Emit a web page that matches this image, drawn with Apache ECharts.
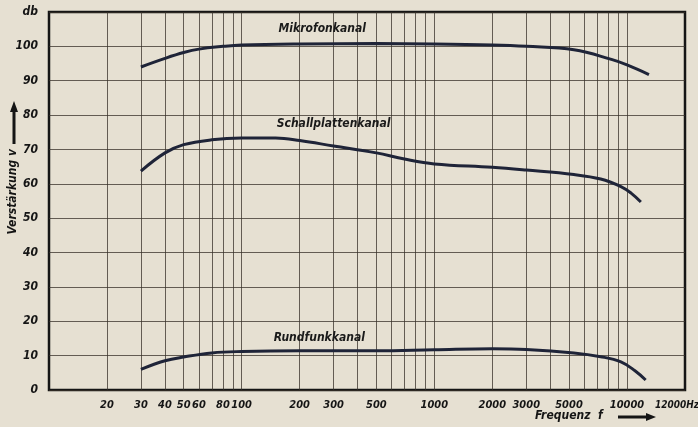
<!DOCTYPE html>
<html>
<head>
<meta charset="utf-8">
<script src="https://cdn.jsdelivr.net/npm/echarts@6/dist/echarts.min.js"></script>
<style>
  html, body { margin: 0; padding: 0; background: #e6e0d2; }
  #chart { width: 698px; height: 427px; }
</style>
</head>
<body>
<div id="chart"></div>
<script>
  'use strict'

  /* ---- data ---- */
  var gridFreqs = [20, 30, 40, 50, 60, 70, 80, 90, 100, 200, 300, 400, 500, 600, 700, 800, 900,
                   1000, 2000, 3000, 4000, 5000, 6000, 7000, 8000, 9000, 10000];
  var freqLabels = [20, 30, 40, 50, 60, 80, 100, 200, 300, 500, 1000, 2000, 3000, 5000, 10000];
  var endLabel = '12000Hz';

  var mikrofon = [[30, 94], [40, 96.5], [50, 98.2], [60, 99.2], [80, 100], [100, 100.4], [200, 100.7],
                  [500, 100.8], [1000, 100.7], [2000, 100.4], [3000, 100], [5300, 99], [8300, 96.2],
                  [10000, 94.6], [13000, 91.8]];
  var schallplatte = [[30, 63.7], [40, 69], [50, 71.4], [70, 72.8], [100, 73.3], [150, 73.3], [200, 72.6],
                      [300, 71], [500, 69], [700, 67.2], [1000, 65.8], [2000, 64.8], [3000, 64],
                      [5300, 62.7], [7300, 61.4], [9300, 59.2], [10500, 57.3], [11800, 54.7]];
  var rundfunk = [[30, 6], [40, 8.5], [50, 9.6], [70, 10.8], [100, 11.2], [200, 11.4], [500, 11.4],
                  [1000, 11.7], [2000, 12], [3000, 11.8], [5300, 10.8], [7300, 9.7], [9300, 8.2],
                  [11000, 5.6], [12500, 2.9]];

  var font = 'DejaVu Sans Condensed';
  var ink = '#1f2438';
  var gridInk = 'rgba(55,48,40,0.75)';

  function curve(name, data, labelAt) {
    return {
      name: name,
      type: 'line',
      data: data,
      smooth: 0.4,
      symbol: 'none',
      lineStyle: { color: ink, width: 3 },
      markPoint: {
        symbol: 'circle',
        symbolSize: 0,
        silent: true,
        label: {
          show: true,
          formatter: name,
          color: '#1a1a1a',
          fontFamily: font,
          fontStyle: 'italic',
          fontWeight: 'bold',
          fontSize: 12
        },
        data: [{ coord: labelAt }]
      }
    };
  }

  var chart = echarts.init(document.getElementById('chart'));
  chart.setOption({
    backgroundColor: '#e6e0d2',
    animation: false,
    grid: {
      left: 49, right: 13, top: 12, bottom: 37,
      show: true,
      borderColor: '#151515',
      borderWidth: 2.5
    },
    xAxis: {
      type: 'log',
      logBase: 10,
      min: 10,
      max: 20000,
      axisLine: { show: false },
      axisTick: { show: false, customValues: gridFreqs },
      splitLine: { show: true, lineStyle: { color: gridInk, width: 1 } },
      minorSplitLine: { show: false },
      axisLabel: {
        customValues: freqLabels,
        hideOverlap: false,
        margin: 10,
        color: '#151515',
        fontFamily: font,
        fontStyle: 'italic',
        fontWeight: 'bold',
        fontSize: 11,
        formatter: function (v) { return String(Math.round(v)); }
      }
    },
    yAxis: {
      type: 'value',
      min: 0,
      max: 110,
      interval: 10,
      axisLine: { show: false },
      axisTick: { show: false },
      splitLine: { show: true, lineStyle: { color: gridInk, width: 1 } },
      axisLabel: {
        margin: 11,
        color: '#151515',
        fontFamily: font,
        fontStyle: 'italic',
        fontWeight: 'bold',
        fontSize: 12,
        formatter: function (v) { return v === 110 ? 'db' : String(v); }
      }
    },
    graphic: [
      {
        type: 'text',
        left: 655,
        top: 400,
        style: {
          text: endLabel,
          fill: '#151515',
          font: 'italic bold 10px "DejaVu Sans Condensed"'
        }
      },
      {
        type: 'text',
        left: 7,
        top: 149,
        rotation: Math.PI / 2,
        style: {
          text: 'Verstärkung v',
          fill: '#151515',
          font: 'italic bold 12px "DejaVu Sans Condensed"'
        }
      },
      // upward arrow above the axis name
      { type: 'line', shape: { x1: 14, y1: 144, x2: 14, y2: 110 }, style: { stroke: '#151515', lineWidth: 3 } },
      { type: 'polygon', shape: { points: [[10, 112], [18, 112], [14, 101]] }, style: { fill: '#151515' } },
      {
        type: 'text',
        left: 535,
        top: 410,
        style: {
          text: 'Frequenz  f',
          fill: '#151515',
          font: 'italic bold 12px "DejaVu Sans Condensed"'
        }
      },
      // arrow after the x axis name
      { type: 'line', shape: { x1: 618, y1: 417, x2: 648, y2: 417 }, style: { stroke: '#151515', lineWidth: 3 } },
      { type: 'polygon', shape: { points: [[646, 413], [646, 421], [656, 417]] }, style: { fill: '#151515' } }
    ],
    series: [
      curve('Mikrofonkanal', mikrofon, [262, 105]),
      curve('Schallplattenkanal', schallplatte, [300, 77.5]),
      curve('Rundfunkkanal', rundfunk, [253, 15.3])
    ]
  });
</script>
</body>
</html>
